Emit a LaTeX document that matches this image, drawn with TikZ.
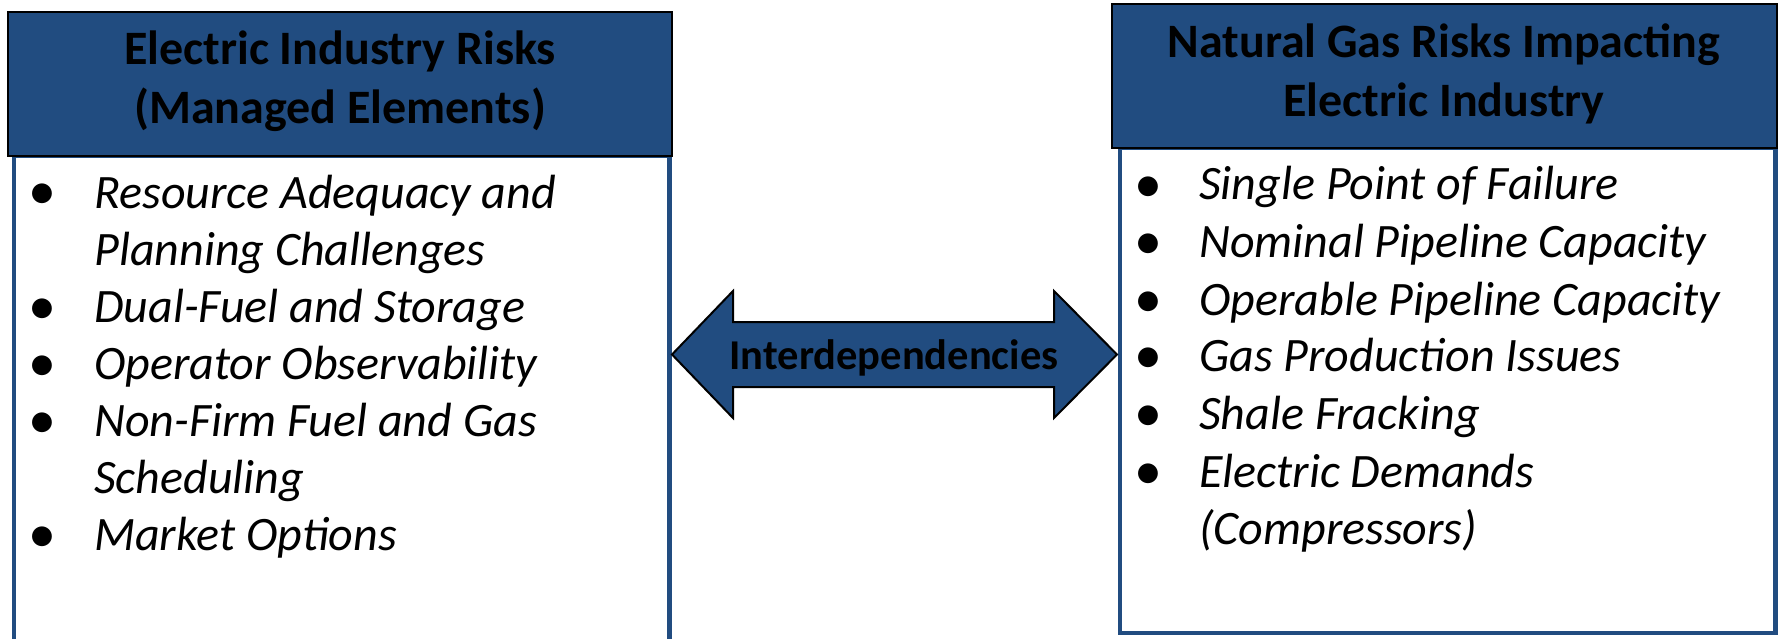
\documentclass[tikz,border=0pt]{standalone}
\usepackage{fontspec}
\setmainfont{Carlito}
\definecolor{hdrblue}{RGB}{33,76,128}
\begin{document}
\begin{tikzpicture}[x=1pt,y=-1pt,
  header/.style={fill=hdrblue,draw=black,line width=2.5pt},
  body/.style={fill=white,draw=hdrblue,line width=4.5pt},
  htext/.style={font=\fontsize{48}{59}\selectfont\bfseries,align=center,inner sep=0pt,text=black},
  itext/.style={font=\fontsize{48}{57}\selectfont\itshape,anchor=base west,inner sep=0pt},
  bul/.style={font=\fontsize{56}{57}\selectfont,anchor=base,inner sep=0pt,yshift=-2pt},
  arrowshape/.style={fill=hdrblue,draw=black,line width=2pt,line join=miter}]
\useasboundingbox (0,0) rectangle (1779,639);
\begin{scope}
\clip (0,0) rectangle (1779,639);
% left box
\draw[body] (14,156) rectangle (669.5,650);
\draw[header] (8,12) rectangle (672,156);
% right box
\draw[body] (1120,148) rectangle (1775.5,633);
\draw[header] (1112,4) rectangle (1777,148);
\end{scope}
\node[htext] (lh) at (340,81) {Electric Industry Risks\\(Managed Elements)};
\node[htext] (rh) at (1444,74) {Natural Gas Risks Impacting\\Electric Industry};
% left items
\node[bul] (lb1) at (42,208) {•};
\node[itext] (l1a) at (94,208) {Resource Adequacy and};
\node[itext] (l1b) at (94,265) {Planning Challenges};
\node[bul] (lb2) at (42,322) {•};
\node[itext] (l2) at (94,322) {Dual-Fuel and Storage};
\node[bul] (lb3) at (42,379) {•};
\node[itext] (l3) at (94,379) {Operator Observability};
\node[bul] (lb4) at (42,436) {•};
\node[itext] (l4a) at (94,436) {Non-Firm Fuel and Gas};
\node[itext] (l4b) at (94,493) {Scheduling};
\node[bul] (lb5) at (42,550) {•};
\node[itext] (l5) at (94,550) {Market Options};
% right items
\node[bul] (rb1) at (1148,200) {•};
\node[itext] (r1) at (1199,200) {Single Point of Failure};
\node[bul] (rb2) at (1148,257) {•};
\node[itext] (r2) at (1199,257) {Nominal Pipeline Capacity};
\node[bul] (rb3) at (1148,315) {•};
\node[itext] (r3) at (1199,315) {Operable Pipeline Capacity};
\node[bul] (rb4) at (1148,371) {•};
\node[itext] (r4) at (1199,371) {Gas Production Issues};
\node[bul] (rb5) at (1148,429) {•};
\node[itext] (r5) at (1199,429) {Shale Fracking};
\node[bul] (rb6) at (1148,487) {•};
\node[itext] (r6a) at (1199,487) {Electric Demands};
\node[itext] (r6b) at (1199,544) {(Compressors)};
% double arrow
\draw[arrowshape] (672,354.5) -- (733,291) -- (733,322) -- (1054,322) -- (1054,291)
  -- (1117,354.5) -- (1054,418) -- (1054,387) -- (733,387) -- (733,418) -- cycle;
\node[font=\fontsize{42.5}{50}\selectfont\bfseries,anchor=base,inner sep=0pt] (inter) at (894,369) {Interdependencies};
\end{tikzpicture}
\end{document}
